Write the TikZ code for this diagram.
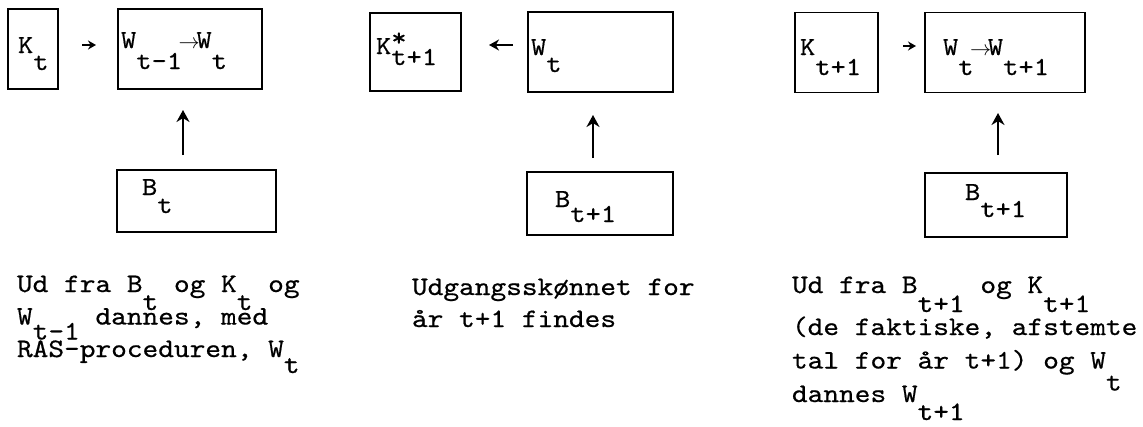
\documentclass[tikz,border=0pt]{standalone}
\usepackage{fontspec}
\usepackage{graphicx}
\newfontfamily\tw{lmmono10-regular.otf}[FakeStretch=1.12,FakeBold=0.6]
\usetikzlibrary{arrows.meta}
\newcommand\lo[2]{\raisebox{-#1}[0pt][0pt]{#2}}
\newcommand\hi[2]{\raisebox{#1}[0pt][0pt]{#2}}
\newcommand\smarr{\makebox[0.55em]{\scalebox{0.85}{$\rightarrow$}}}
\begin{document}
\begin{tikzpicture}[x=1pt,y=-1pt,
  box/.style={draw, line width=1.8pt, inner sep=0pt, outer sep=0pt, anchor=north west},
  lbl/.style={anchor=base west, inner sep=0pt, outer sep=0pt, font=\tw\fontsize{26}{30}\selectfont},
  para/.style={anchor=base west, inner sep=0pt, outer sep=0pt, font=\tw\fontsize{26.7}{33}\selectfont},
  uparr/.style={line width=2.6pt, -{Stealth[length=12pt,width=13pt]}},
  thinarr/.style={line width=1.5pt, -{Stealth[length=8pt,width=9pt]}},
  medarr/.style={line width=2.6pt, -{Stealth[length=10pt,width=11pt]}}]
\useasboundingbox (0,0) rectangle (1143,426);

% panel 1
\node[box, minimum width=50pt, minimum height=80pt] (K1) at (8,9) {};
\node[box, minimum width=144pt, minimum height=80pt] (W1) at (118,9) {};
\node[box, minimum width=159pt, minimum height=62pt] (B1) at (117,170) {};
\node[lbl] (K1l) at (18,53) {K\lo{17pt}{t}};
\node[lbl] (W1l) at (121,48) {W\lo{21pt}{t-1}\smarr W\lo{21pt}{t}};
\node[lbl] (B1l) at (142,195) {B\lo{18pt}{t}};
\draw[thinarr, shorten <=24pt, shorten >=22pt] ([yshift=4pt]K1.east) -- ([yshift=4pt]W1.west);
\draw[uparr, shorten <=15pt, shorten >=21pt] ([xshift=-13.5pt]B1.north) -- ([xshift=-13.5pt]B1.north |- W1.south);
\node[para] (P1) at (17,292) {\vtop{\baselineskip=32.5pt
  \hbox{Ud fra B\lo{18pt}{t} og K\lo{18pt}{t} og}
  \hbox{W\lo{15pt}{t-1} dannes, med}
  \hbox{RAS-proceduren, W\lo{16pt}{t}}}};

% panel 2
\node[box, minimum width=91pt, minimum height=78pt] (K2) at (370,13) {};
\node[box, minimum width=145pt, minimum height=80pt] (W2) at (528,12) {};
\node[box, minimum width=146pt, minimum height=63pt] (B2) at (527,172) {};
\node[lbl] (K2l) at (376,54) {K\rlap{\hi{8pt}{*}}\lo{11pt}{t+1}};
\node[lbl] (W2l) at (531,55) {W\lo{17pt}{t}};
\node[lbl] (B2l) at (555,207) {B\lo{15pt}{t+1}};
\draw[medarr, shorten <=15pt, shorten >=28pt] ([yshift=7pt]W2.west) -- ([yshift=7pt]K2.east);
\draw[uparr, shorten <=14pt, shorten >=23pt] ([xshift=-7pt]B2.north) -- ([xshift=-7pt]B2.north |- W2.south);
\node[para] (P2) at (412,295) {\vtop{\baselineskip=32pt
  \hbox{Udgangsskønnet for}
  \hbox{år t+1 findes}}};

% panel 3
\node[box, minimum width=83pt, minimum height=80pt] (K3) at (795,12.5) {};
\node[box, minimum width=160pt, minimum height=80pt] (W3) at (925,12.5) {};
\node[box, minimum width=142pt, minimum height=64pt] (B3) at (925,173) {};
\node[lbl] (K3l) at (800,55) {K\lo{20pt}{t+1}};
\node[lbl] (W3l) at (943,55) {W\lo{20pt}{t}\smarr W\lo{20pt}{t+1}};
\node[lbl] (B3l) at (965,200) {B\lo{17pt}{t+1}};
\draw[thinarr, shorten <=25pt, shorten >=9pt] ([yshift=6.5pt]K3.east) -- ([yshift=6.5pt]W3.west);
\draw[uparr, shorten <=18pt, shorten >=20.5pt] ([xshift=2pt]B3.north) -- ([xshift=2pt]B3.north |- W3.south);
\node[para] (P3) at (792,293) {\vtop{\baselineskip=33.5pt
  \hbox{Ud fra B\lo{19pt}{t+1} og K\lo{19pt}{t+1}}
  \kern8.5pt
  \hbox{(de faktiske, afstemte}
  \hbox{tal for år t+1) og W\lo{22pt}{t}}
  \hbox{dannes W\lo{18pt}{t+1}}}};
\end{tikzpicture}
\end{document}
